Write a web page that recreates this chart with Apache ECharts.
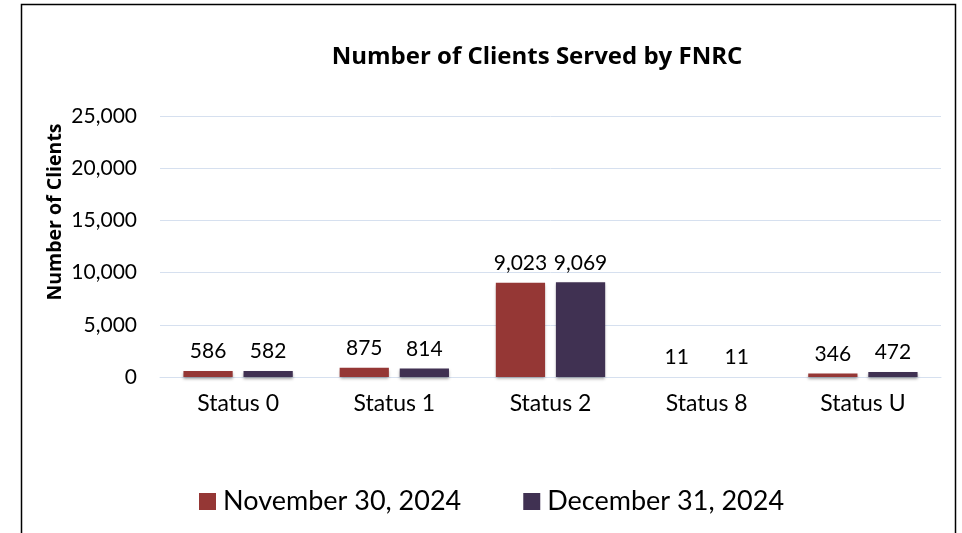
<!DOCTYPE html>
<html><head><meta charset="utf-8">
<script src="https://cdn.jsdelivr.net/npm/echarts@6/dist/echarts.min.js"></script>
<style>html,body{margin:0;padding:0;background:#fff}#c{width:962px;height:533px}</style>
</head><body><div id="c"></div>
<script>
const categories = ['Status 0', 'Status 1', 'Status 2', 'Status 8', 'Status U'];
const seriesNames = ['November 30, 2024', 'December 31, 2024'];
const nov2024 = [586, 875, 9023, 11, 346];
const dec2024 = [582, 814, 9069, 11, 472];
const yTicks = [0, 5000, 10000, 15000, 20000, 25000];

const FONT = 'Lato';
const BFONT = 'Open Sans';
const fmt = v => v.toLocaleString('en-US');
const chart = echarts.init(document.getElementById('c'), null, {renderer: 'canvas'});
const barStyle = c => ({color: c, shadowColor: 'rgba(0,0,0,0.35)', shadowBlur: 3, shadowOffsetY: 2});
const lbl = {show: true, position: 'top', distance: 9, color: '#000', fontFamily: FONT, fontSize: 21, formatter: p => fmt(p.value)};
chart.setOption({
  animation: false,
  textStyle: {fontFamily: FONT},
  title: {text: 'Number of Clients Served by FNRC', left: 532, top: 40, textAlign: 'center',
    textStyle: {fontFamily: BFONT, fontWeight: 'bold', fontSize: 24, color: '#000'}},
  grid: {left: 160, right: 21, top: 116, bottom: 156},
  legend: {left: 199, top: 488, padding: 0, itemWidth: 17, itemHeight: 17, itemGap: 62, icon: 'rect',
    textStyle: {fontFamily: FONT, fontSize: 27, color: '#000', padding: [0, 0, 0, 2]},
    data: seriesNames},
  xAxis: {type: 'category', data: categories,
    axisLine: {show: true, lineStyle: {color: '#d6e0ef', width: 1}},
    axisTick: {show: false},
    axisLabel: {color: '#000', fontFamily: FONT, fontSize: 23, margin: 15}},
  yAxis: {type: 'value', min: yTicks[0], max: yTicks[yTicks.length - 1], interval: 5000,
    axisLine: {show: false}, axisTick: {show: false},
    splitLine: {lineStyle: {color: '#d6e0ef', width: 1}},
    axisLabel: {color: '#000', fontFamily: FONT, fontSize: 21, margin: 23, formatter: v => fmt(v)}},
  graphic: [
    {type: 'rect', shape: {x: 21.5, y: 4.5, width: 934, height: 560}, style: {fill: 'none', stroke: '#000', lineWidth: 1.5}, silent: true, z: 100},
    {type: 'text', x: 55, y: 212, rotation: Math.PI / 2, style: {text: 'Number of Clients', fontFamily: BFONT, fontWeight: 'bold', fontSize: 19.5, fill: '#000', textAlign: 'center', textVerticalAlign: 'middle'}}
  ],
  series: [
    {name: seriesNames[0], type: 'bar', data: nov2024, barCategoryGap: '30%', barGap: '22%', itemStyle: barStyle('#953735'), label: lbl},
    {name: seriesNames[1], type: 'bar', data: dec2024, itemStyle: barStyle('#403152'), label: lbl}
  ]
});
</script></body></html>
